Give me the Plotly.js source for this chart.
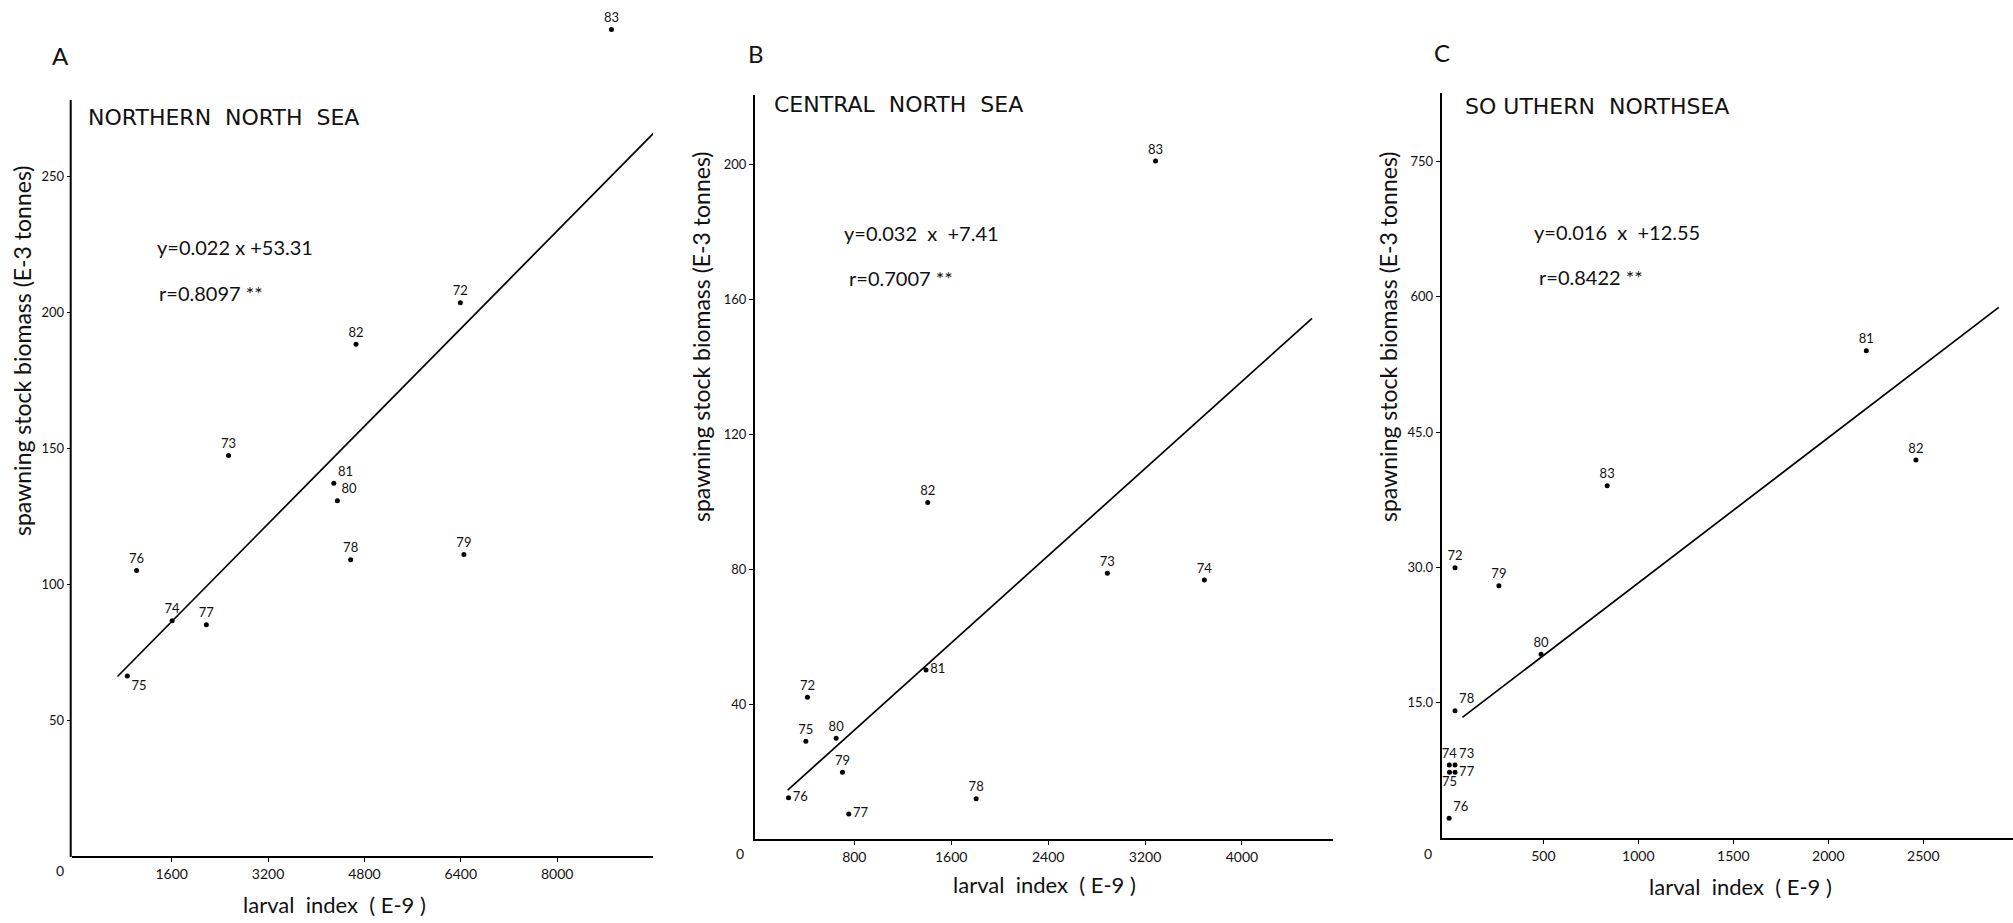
<!DOCTYPE html>
<html>
<head>
<meta charset="utf-8">
<script src="https://cdn.plot.ly/plotly-3.0.1.min.js"></script>
<style>html,body{margin:0;padding:0;background:#fff;}#chart{width:2013px;height:923px;}</style>
</head>
<body>
<div id="chart"></div>
<script>
// ---------- DATA ----------
// Panel A: Northern North Sea
const yearsA = ["72","73","74","75","76","77","78","79","80","81","82","83"];
const larvalA = [6392, 2544, 1607, 863, 1017, 2175, 4571, 6451, 4350, 4291, 4660, 8900];
const biomassA = [203.4, 147.2, 86.5, 66.2, 105, 85, 108.9, 110.8, 130.6, 137, 188.1, 303.9];
const fitA_x = [700, 9700];
const fitA_y = [66, 268];
const eqA = "y=0.022 x +53.31";
const rA = "r=0.8097 **";

// Panel B: Central North Sea
const yearsB = ["72","73","74","75","76","77","78","79","80","81","82","83"];
const larvalB = [413, 2889, 3690, 400, 257, 754, 1806, 702, 650, 1392, 1406, 3287];
const biomassB = [42.0, 78.8, 76.8, 29, 12.2, 7.4, 11.9, 19.8, 29.9, 50.1, 99.8, 201];
const fitB_x = [250, 4579];
const fitB_y = [14.5, 154.4];
const eqB = "y=0.032  x  +7.41";
const rB = "r=0.7007 **";

// Panel C: Southern North Sea
const yearsC = ["72","73","74","75","76","77","78","79","80","81","82","83"];
const larvalC = [35, 35, 5, 6, 4, 35, 35, 266, 488, 2200, 2461, 836];
const biomassC = [299.7, 80.9, 80.9, 72.8, 21.8, 72.8, 141.1, 279.7, 203.7, 540.2, 419, 390.6];
const fitC_x = [74, 2897];
const fitC_y = [133.7, 588.3];
const eqC = "y=0.016  x  +12.55";
const rC = "r=0.8422 **";

const ticksA_x = [1600, 3200, 4800, 6400, 8000];
const ticksA_y = [50, 100, 150, 200, 250];
const ticksB_x = [800, 1600, 2400, 3200, 4000];
const ticksB_y = [40, 80, 120, 160, 200];
const ticksC_x = [500, 1000, 1500, 2000, 2500];
const ticksC_y = [150, 300, 450, 600, 750];
const ticktextC_y = ["15.0", "30.0", "45.0", "600", "750"];

const titles = ["NORTHERN  NORTH  SEA", "CENTRAL  NORTH  SEA", "SO UTHERN  NORTHSEA"];
const panelLetters = ["A", "B", "C"];
const xTitle = "larval  index  ( E-9 )";
const yTitle = "spawning stock biomass (E-3 tonnes)";

// ---------- STYLE ----------
const W = 2013, H = 923;
const px = x => x / W;
const py = y => 1 - y / H;
const FONT = "Lato, 'Open Sans', sans-serif";
const CAPFONT = "'DejaVu Sans', Lato, sans-serif";
const labelPosA = ["top center","top center","top center","bottom right","top center","top center","top center","top center","top right","top right","top center","top center"];
const labelPosB = ["top center","top center","top center","top center","middle right","middle right","top center","top center","top center","middle right","top center","top center"];
const labelPosC = ["top center","top right","top center","bottom center","top right","middle right","top right","top center","top center","top center","top center","top center"];

function pts(x, y, t, pos, xa, ya) {
  return {x: x, y: y, text: t, textposition: pos, xaxis: xa, yaxis: ya,
    type: "scatter", mode: "markers+text", cliponaxis: false,
    marker: {color: "#000", size: 5},
    textfont: {family: FONT, size: 13, color: "#111"}, hoverinfo: "skip", showlegend: false};
}
function fit(x, y, xa, ya) {
  return {x: x, y: y, xaxis: xa, yaxis: ya, type: "scatter", mode: "lines",
    line: {color: "#000", width: 1.7}, hoverinfo: "skip", showlegend: false, cliponaxis: false};
}

const data = [
  fit(fitA_x, fitA_y, "x", "y"),
  pts(larvalA, biomassA, yearsA, labelPosA, "x", "y"),
  fit(fitB_x, fitB_y, "x2", "y2"),
  pts(larvalB, biomassB, yearsB, labelPosB, "x2", "y2"),
  fit(fitC_x, fitC_y, "x3", "y3"),
  pts(larvalC, biomassC, yearsC, labelPosC, "x3", "y3")
];

function xax(dom, range, tv, anchor) {
  return {domain: dom, range: range, tickvals: tv, anchor: anchor, showline: true, linecolor: "#000",
    linewidth: 2, ticks: "outside", ticklen: 4, tickcolor: "#000", showgrid: false, zeroline: false,
    tickfont: {family: FONT, size: 14, color: "#111"}, fixedrange: true};
}
function yax(dom, range, tv, anchor, tt, line) {
  const a = {domain: dom, range: range, tickvals: tv, anchor: anchor, showline: line !== false, linecolor: "#000",
    linewidth: 2, ticks: "outside", ticklen: 4, tickcolor: "#000", showgrid: false, zeroline: false,
    tickfont: {family: FONT, size: 13, color: "#111"}, fixedrange: true};
  if (tt) a.ticktext = tt;
  return a;
}

const ann = [];
function txt(t, x, y, size, opts, fam) {
  ann.push(Object.assign({text: t, x: px(x), y: py(y), xref: "paper", yref: "paper", showarrow: false,
    font: {family: fam || FONT, size: size, color: "#111"}, xanchor: "center", yanchor: "middle"}, opts || {}));
}
// panel letters
txt(panelLetters[0], 60, 55, 24); txt(panelLetters[1], 756, 53, 24); txt(panelLetters[2], 1442, 52, 24);
// panel titles
txt(titles[0], 86, 118, 22, {xanchor: "left"}, CAPFONT);
txt(titles[1], 772, 105, 22, {xanchor: "left"}, CAPFONT);
txt(titles[2], 1463, 107, 22, {xanchor: "left"}, CAPFONT);
// equations
txt(eqA, 155, 247, 20, {xanchor: "left"}); txt(rA, 157, 293, 20, {xanchor: "left"});
txt(eqB, 842, 233, 20, {xanchor: "left"}); txt(rB, 847, 278, 20, {xanchor: "left"});
txt(eqC, 1532, 232, 20, {xanchor: "left"}); txt(rC, 1537, 277, 20, {xanchor: "left"});
// axis titles
txt(xTitle, 334, 904, 22); txt(xTitle, 1044, 884, 22); txt(xTitle, 1740, 886, 22);
txt(yTitle, 22, 351, 23, {textangle: -90}); txt(yTitle, 701, 337, 23, {textangle: -90}); txt(yTitle, 1388, 337, 23, {textangle: -90});
// origin zeros
txt("0", 60, 870, 14); txt("0", 740, 853, 14); txt("0", 1428, 853, 14);

const layout = {
  width: W, height: H, margin: {l: 0, r: 0, t: 0, b: 0},
  paper_bgcolor: "#fff", plot_bgcolor: "rgba(0,0,0,0)", showlegend: false,
  xaxis: xax([px(71.7), px(653)], [-60, 9590], ticksA_x, "y"),
  yaxis: yax([py(856), py(856 - 312 * 2.72)], [0, 312], ticksA_y, "x", null, false),
  xaxis2: xax([px(755), px(1333)], [-20, 4752], ticksB_x, "y2"),
  yaxis2: yax([py(839), py(95)], [0, 220.6], ticksB_y, "x2"),
  xaxis3: xax([px(1441.7), 1], [-35, 2972], ticksC_x, "y3"),
  yaxis3: yax([py(838), py(93)], [0, 826], ticksC_y, "x3", ticktextC_y),
  shapes: [
    // vertical axis line of panel A (the panel's point 83 lies above the axis top)
    {type: "line", xref: "paper", yref: "paper", x0: px(70.7), x1: px(70.7), y0: py(857), y1: py(100),
     line: {color: "#000", width: 2}}
  ],
  annotations: ann
};
Plotly.newPlot("chart", data, layout, {displayModeBar: false, staticPlot: true});
</script>
</body>
</html>
